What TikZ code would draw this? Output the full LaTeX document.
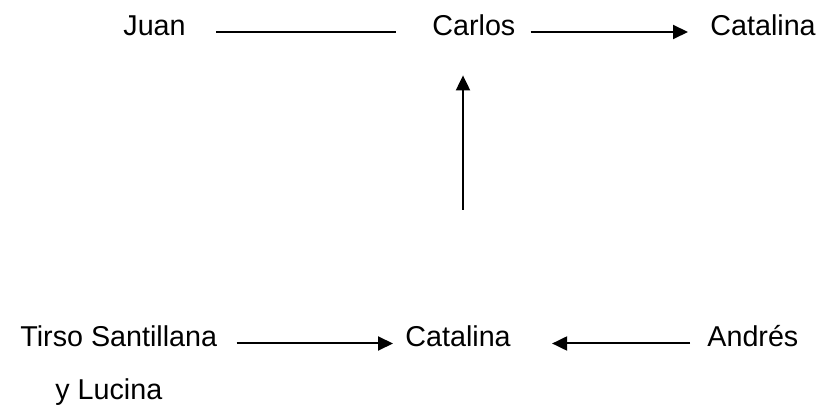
\documentclass[tikz,border=0pt]{standalone}
\usepackage{fontspec}
\setmainfont{Liberation Sans}
\usetikzlibrary{arrows.meta}

\tikzset{
  person/.style={inner sep=0pt, anchor=base west, text height=7pt, text depth=3.5pt,
    font=\fontsize{14.35pt}{17pt}\selectfont},
  link/.style={line width=1pt},
  arrow/.style={link, -{Triangle[length=7.5pt,width=7pt]}}
}

\begin{document}
\begin{tikzpicture}[x=0.5pt,y=-0.5pt]
  \useasboundingbox (0,0) rectangle (820,406);

  % top row
  \node[person] (juan)   at (123,35.5) {Juan};
  \node[person] (carlos) at (432,35.5) {Carlos};
  \node[person] (cat1)   at (710,35.5) {Catalina};

  % bottom row
  \node[person] (tirso)  at (20,347) {Tirso Santillana};
  \node[person] (lucina) at (55,400) {y Lucina};
  \node[person] (cat2)   at (405,347) {Catalina};
  \node[person] (andres) at (707,347) {Andrés};

  \draw[link, shorten <=15pt, shorten >=18pt] (juan) -- (carlos);
  \draw[arrow, shorten <=7.5pt, shorten >=11pt] (carlos) -- (cat1);
  \draw[arrow, shorten <=9.5pt, shorten >=6pt] (tirso) -- (cat2);
  \draw[arrow, shorten <=8.5pt, shorten >=20.5pt] (andres) -- (cat2);

  \coordinate (tail) at (463,210);
  \draw[arrow, shorten >=16.25pt] (tail) -- (tail |- carlos.south);
\end{tikzpicture}
\end{document}
